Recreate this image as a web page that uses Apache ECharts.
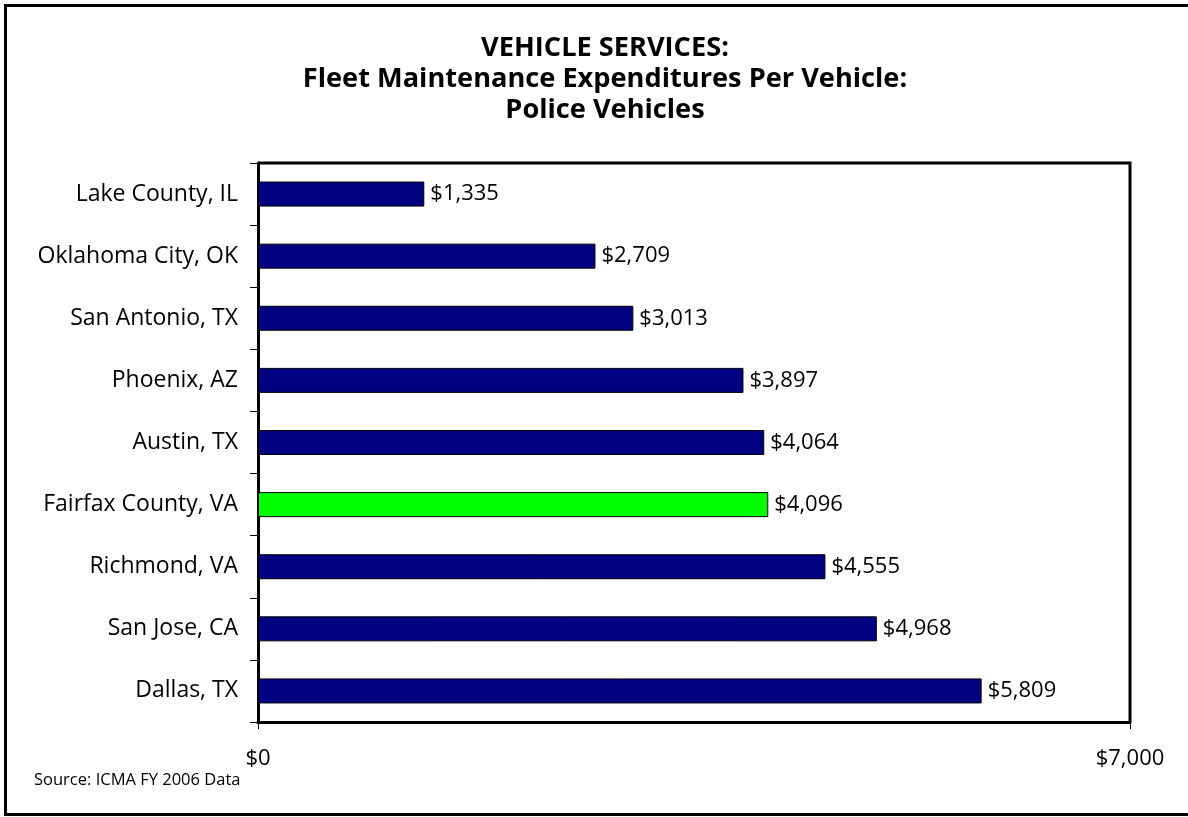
<!DOCTYPE html>
<html>
<head>
<meta charset="UTF-8">
<title>Fleet Maintenance Expenditures</title>
<script src="https://cdn.jsdelivr.net/npm/echarts@6/dist/echarts.min.js"></script>
<style>
  html, body { margin: 0; padding: 0; background: #fff; }
  #chart { width: 1188px; height: 817px; }
</style>
</head>
<body>
<div id="chart"></div>
<script>
// data (top to bottom)
var cities = ["Lake County, IL", "Oklahoma City, OK", "San Antonio, TX", "Phoenix, AZ",
              "Austin, TX", "Fairfax County, VA", "Richmond, VA", "San Jose, CA", "Dallas, TX"];
var costs = [1335, 2709, 3013, 3897, 4064, 4096, 4555, 4968, 5809];
var highlight = "Fairfax County, VA";
var xTicks = [0, 7000];

var FONT = "'Open Sans', Lato, sans-serif";

function money(v) {
    return "$" + v.toLocaleString("en-US");
}

var chart = echarts.init(document.getElementById("chart"));

var option = {
    animation: false,
    title: {
        text: "VEHICLE SERVICES:\nFleet Maintenance Expenditures Per Vehicle:\nPolice Vehicles",
        left: 600,
        textAlign: "center",
        top: 28,
        textStyle: { fontFamily: FONT, fontSize: 27.2, fontWeight: "bold", color: "#000", lineHeight: 31 }
    },
    grid: { left: 258, right: 58, top: 163, bottom: 95 },
    xAxis: {
        type: "value",
        min: xTicks[0],
        max: xTicks[xTicks.length - 1],
        interval: 7000,
        axisLine: { show: true, lineStyle: { color: "#000", width: 3 } },
        axisTick: { show: true, length: 7, lineStyle: { color: "#000", width: 1 } },
        splitLine: { show: false },
        axisLabel: {
            margin: 26,
            fontFamily: FONT, fontSize: 22, color: "#000",
            formatter: function (v) { return money(v); }
        }
    },
    yAxis: {
        type: "category",
        inverse: true,
        data: cities,
        axisLine: { show: true, lineStyle: { color: "#000", width: 3 } },
        axisTick: { show: true, length: 8, lineStyle: { color: "#000", width: 1 } },
        axisLabel: { margin: 20, fontFamily: FONT, fontSize: 23, color: "#000" }
    },
    series: [{
        type: "bar",
        barWidth: 25,
        data: costs.map(function (v, i) {
            return {
                value: v,
                itemStyle: { color: cities[i] === highlight ? "#00ff00" : "#000080" }
            };
        }),
        itemStyle: { borderColor: "#000", borderWidth: 1 },
        label: {
            show: true,
            position: "right",
            distance: 6,
            fontFamily: FONT, fontSize: 22, color: "#000",
            formatter: function (p) { return money(p.value); }
        }
    }],
    graphic: [
        // outer frame
        { type: "rect", shape: { x: 5.5, y: 5.5, width: 1200, height: 809 },
          style: { fill: null, stroke: "#000", lineWidth: 3 }, silent: true },
        // top and right edges of the plot box
        { type: "polyline", shape: { points: [[258, 163], [1130, 163], [1130, 722]] },
          style: { fill: null, stroke: "#000", lineWidth: 3 }, silent: true },
        { type: "text", left: 34, top: 772,
          style: { text: "Source: ICMA FY 2006 Data", fontFamily: FONT, fontSize: 16.5, fill: "#000" } }
    ]
};

chart.setOption(option);
</script>
</body>
</html>
